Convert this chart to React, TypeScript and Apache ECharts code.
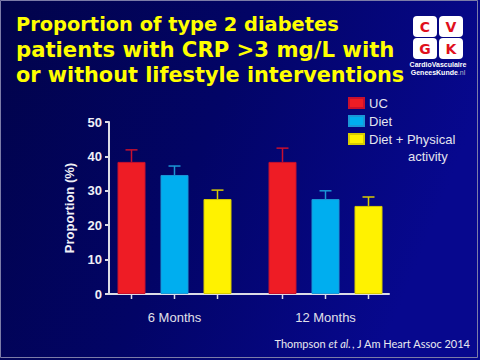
import React, { useEffect, useRef } from "react";
import * as echarts from "echarts";

const categories = ["6 Months", "12 Months"];
const seriesNames = ["UC", "Diet", "Diet + Physical activity"];
const ucValues = [38.4, 38.4];
const dietValues = [34.6, 27.6];
const dietPaValues = [27.6, 25.6];
const ucUpper = [41.9, 42.4];
const dietUpper = [37.2, 30.0];
const dietPaUpper = [30.2, 28.2];
const yTicks = { min: 0, max: 50, interval: 10 };
const titleLines = [
  "Proportion of type 2 diabetes",
  "patients with CRP >3 mg/L with",
  "or without lifestyle interventions",
];

const barColors = ["#ee1c25", "#00aeef", "#fff200"];
const capColors = ["#c8102e", "#1b96d6", "#d8cc00"];
const FONT = "Liberation Sans, Arial, sans-serif";
const TFONT = "DejaVu Sans, Verdana, sans-serif";

export default function App() {
  const ref = useRef<HTMLDivElement>(null);
  useEffect(() => {
    if (!ref.current) return;
    const chart = echarts.init(ref.current, null, { renderer: "svg" });
    const values = [ucValues, dietValues, dietPaValues];
    const uppers = [ucUpper, dietUpper, dietPaUpper];
    const errData: number[][] = [];
    for (let s = 0; s < 3; s++) {
      for (let c = 0; c < categories.length; c++) {
        errData.push([c, values[s][c], uppers[s][c], s]);
      }
    }
    const barWidth = 28;
    const gapPx = 15;
    const titleSizes = [19.4, 21.2, 20.8];
    const titleRich: any = {};
    titleSizes.forEach((sz, i) => {
      titleRich["t" + i] = {
        color: "#ffff00",
        fontFamily: TFONT,
        fontWeight: "bold",
        fontSize: sz,
        lineHeight: 25,
      };
    });
    const logoCells = [
      ["C", 413, 16],
      ["V", 439, 16],
      ["G", 413, 38],
      ["K", 439, 38],
    ];
    chart.setOption({
      animation: false,
      backgroundColor: {
        type: "linear",
        x: 0,
        y: 0,
        x2: 1,
        y2: 0.3,
        colorStops: [
          { offset: 0, color: "#01034a" },
          { offset: 0.5, color: "#020466" },
          { offset: 1, color: "#07088e" },
        ],
      },
      title: {
        text: titleLines.map((l, i) => "{t" + i + "|" + l + "}").join("\n"),
        left: 16,
        top: 12,
        padding: 0,
        textStyle: {
          color: "#ffff00",
          fontFamily: TFONT,
          fontWeight: "bold",
          fontSize: 20,
          lineHeight: 25,
          rich: titleRich,
        },
      },
      legend: {
        orient: "vertical",
        left: 348,
        top: 96,
        padding: 0,
        itemWidth: 15,
        itemHeight: 10,
        itemGap: 4,
        icon: "rect",
        data: seriesNames,
        formatter: (name: string) =>
          name === "Diet + Physical activity" ? "Diet + Physical" : name,
        textStyle: {
          color: "#e4e4ee",
          fontFamily: FONT,
          fontSize: 13,
          lineHeight: 14,
        },
      },
      grid: [
        { left: 99, right: 79, top: 122, bottom: 66 },
        { left: 109, right: 91, top: 122, bottom: 66 },
      ],
      xAxis: [
        {
          type: "category",
          gridIndex: 0,
          data: categories,
          axisLine: { show: false },
          axisTick: { show: false },
          axisLabel: {
            color: "#e0e0ea",
            fontSize: 13,
            margin: 17,
            fontFamily: FONT,
          },
        },
        {
          type: "value",
          gridIndex: 1,
          min: 0,
          max: 1,
          axisLine: { show: true, lineStyle: { color: "#dcdce6", width: 2 } },
          axisTick: { show: false },
          axisLabel: { show: false },
          splitLine: { show: false },
        },
      ],
      yAxis: [
        {
          type: "value",
          gridIndex: 0,
          ...yTicks,
          show: false,
        },
        {
          type: "value",
          gridIndex: 1,
          ...yTicks,
          name: "Proportion (%)",
          nameLocation: "middle",
          nameGap: 33,
          nameTextStyle: {
            color: "#f0f0f6",
            fontSize: 13,
            fontWeight: "bold",
            fontFamily: FONT,
          },
          axisLine: { show: true, lineStyle: { color: "#dcdce6", width: 2 } },
          axisTick: { show: true, length: 4, lineStyle: { color: "#dcdce6", width: 2 } },
          axisLabel: {
            color: "#f0f0f6",
            fontSize: 13,
            fontWeight: "bold",
            margin: 7,
            fontFamily: FONT,
          },
          splitLine: { show: false },
        },
      ],
      series: [
        ...seriesNames.map((name, i) => ({
          name,
          type: "bar",
          xAxisIndex: 0,
          yAxisIndex: 0,
          barWidth,
          barGap: (gapPx / barWidth) * 100 + "%",
          data: values[i],
          itemStyle: { color: barColors[i], borderColor: capColors[i], borderWidth: 1 },
        })),
        {
          type: "custom",
          xAxisIndex: 0,
          yAxisIndex: 0,
          z: 5,
          data: errData,
          renderItem: (params: any, api: any) => {
            const cat = api.value(0);
            const mean = api.value(1);
            const up = api.value(2);
            const s = api.value(3);
            const off = (s - 1) * (barWidth + gapPx);
            const pMean = api.coord([cat, mean]);
            const pUp = api.coord([cat, up]);
            const pZero = api.coord([cat, 0]);
            const x = pMean[0] + off;
            const color = capColors[s];
            return {
              type: "group",
              children: [
                {
                  type: "line",
                  shape: { x1: x, y1: pMean[1], x2: x, y2: pUp[1] },
                  style: { stroke: color, lineWidth: 1.5 },
                },
                {
                  type: "line",
                  shape: { x1: x - 6, y1: pUp[1], x2: x + 6, y2: pUp[1] },
                  style: { stroke: color, lineWidth: 1.5 },
                },
                {
                  type: "line",
                  shape: { x1: x, y1: pZero[1] + 1, x2: x, y2: pZero[1] + 5 },
                  style: { stroke: "#dcdce6", lineWidth: 1.5 },
                },
              ],
            };
          },
        },
      ],
      graphic: [
        {
          type: "text",
          x: 408,
          y: 156,
          style: {
            text: "activity",
            fill: "#e4e4ee",
            font: "13px " + FONT,
            textVerticalAlign: "middle",
          },
        },
        ...logoCells.map(([t, x, y]) => ({
          type: "rect",
          shape: { x: x as number, y: y as number, width: 24, height: 21, r: 4 },
          style: { fill: "#ffffff" },
        })),
        ...logoCells.map(([t, x, y]) => ({
          type: "text",
          x: (x as number) + 12,
          y: (y as number) + 11,
          style: {
            text: t as string,
            fill: "#e0101c",
            font: "bold 14px " + TFONT,
            textAlign: "center",
            textVerticalAlign: "middle",
          },
        })),
        {
          type: "text",
          x: 438,
          y: 64,
          style: {
            text: "CardioVasculaire",
            fill: "#ffffff",
            font: "bold 7px " + FONT,
            textAlign: "center",
            textVerticalAlign: "middle",
          },
        },
        {
          type: "text",
          x: 438,
          y: 72,
          style: {
            text: "{a|GeneesKunde}{b|.nl}",
            textAlign: "center",
            textVerticalAlign: "middle",
            rich: {
              a: { fill: "#ffffff", fontSize: 7, fontWeight: "bold", fontFamily: FONT },
              b: { fill: "#b8b8cc", fontSize: 7, fontFamily: FONT },
            },
          },
        },
        {
          type: "text",
          x: 470,
          y: 343,
          style: {
            text: "{n|Thompson }{i|et al.}{n|, J Am Heart Assoc 2014}",
            textAlign: "right",
            textVerticalAlign: "middle",
            rich: {
              n: { fill: "#e8e8f0", fontSize: 11, fontFamily: "Lato, sans-serif" },
              i: { fill: "#e8e8f0", fontSize: 11, fontStyle: "italic", fontFamily: "Lato, sans-serif" },
            },
          },
        },
        {
          type: "rect",
          shape: { x: 0.5, y: 0.5, width: 477, height: 357 },
          style: { fill: "none", stroke: "#7c7ca8", lineWidth: 1 },
        },
      ],
    });
    return () => chart.dispose();
  }, []);
  return (
    <div
      ref={ref}
      style={{ position: "absolute", left: 0, top: 0, width: 480, height: 360 }}
    />
  );
}
